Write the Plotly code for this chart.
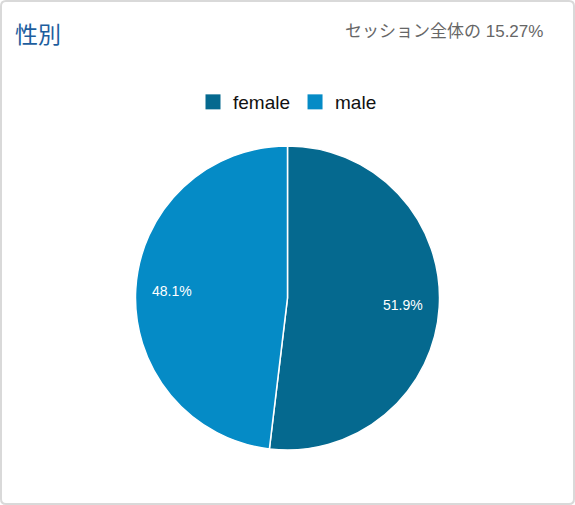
import math
import plotly.graph_objects as go

# data
labels = ["female", "male"]
values = [51.9, 48.1]
colors = ["#05698f", "#058bc6"]
title_text = "性別"
share_text = "セッション全体の 15.27%"

W, H = 575, 505
pie_y = [0.109, 0.711]

fig = go.Figure()
fig.add_trace(go.Pie(
    labels=labels,
    values=values,
    sort=False,
    direction="clockwise",
    rotation=0,
    marker=dict(colors=colors, line=dict(color="white", width=1.5)),
    textinfo="none",
    hoverinfo="label+percent",
    showlegend=False,
    domain=dict(x=[0, 1], y=pie_y),
))

# legend entries with bigger square swatches
for lab, col in zip(labels, colors):
    fig.add_trace(go.Scatter(x=[None], y=[None], mode="markers", name=lab,
                             marker=dict(symbol="square", size=15, color=col),
                             hoverinfo="skip"))

# percentage labels placed at the slice mid-angles
radius_px = (pie_y[1] - pie_y[0]) * H / 2
cx, cy = 0.5, (pie_y[0] + pie_y[1]) / 2
total = sum(values)
start = 0.0
for v in values:
    mid = (start + v / 2) / total * 2 * math.pi
    start += v
    dx = math.sin(mid) * radius_px * 0.76
    dy = math.cos(mid) * radius_px * 0.76
    fig.add_annotation(text=f"{v / total * 100:.1f}%", x=cx + dx / W, y=cy + dy / H,
                       xref="paper", yref="paper", showarrow=False,
                       xanchor="center", yanchor="middle",
                       font=dict(size=14, color="white", family="Arial, Liberation Sans"))

# card border with rounded corners (paper coords)
px_x = 1 / W
px_y = 1 / H
r = 5
x0, x1 = 1 * px_x, 1 - 1 * px_x
y0, y1 = 1 * px_y, 1 - 1 * px_y
rx, ry = r * px_x, r * px_y
path = (f"M {x0+rx},{y1} L {x1-rx},{y1} Q {x1},{y1} {x1},{y1-ry} "
        f"L {x1},{y0+ry} Q {x1},{y0} {x1-rx},{y0} "
        f"L {x0+rx},{y0} Q {x0},{y0} {x0},{y0+ry} "
        f"L {x0},{y1-ry} Q {x0},{y1} {x0+rx},{y1} Z")
fig.add_shape(type="path", path=path, xref="paper", yref="paper",
              line=dict(color="#d9d9d9", width=2), layer="below")

fig.add_annotation(text=title_text, x=13 / W, y=1 - 33 / H, xref="paper", yref="paper",
                   xanchor="left", yanchor="middle", showarrow=False,
                   font=dict(size=23, color="#1d5e9e", family="Noto Sans CJK JP"))
fig.add_annotation(text=share_text, x=545 / W, y=1 - 31 / H, xref="paper", yref="paper",
                   xanchor="right", yanchor="middle", showarrow=False,
                   font=dict(size=17, color="#666666", family="Arial, Liberation Sans, Noto Sans CJK JP"))

fig.update_layout(
    width=W, height=H,
    margin=dict(l=0, r=0, t=0, b=0),
    paper_bgcolor="white",
    plot_bgcolor="white",
    showlegend=True,
    xaxis=dict(visible=False),
    yaxis=dict(visible=False),
    legend=dict(orientation="h", x=0.5, xanchor="center", y=1 - 102 / H, yanchor="middle",
                font=dict(size=19, color="#111111", family="Arial, Liberation Sans"),
                itemsizing="trace", itemwidth=30),
)

fig.write_html("out.html", config={"displayModeBar": False},
               post_script="document.body.style.margin='0';")
